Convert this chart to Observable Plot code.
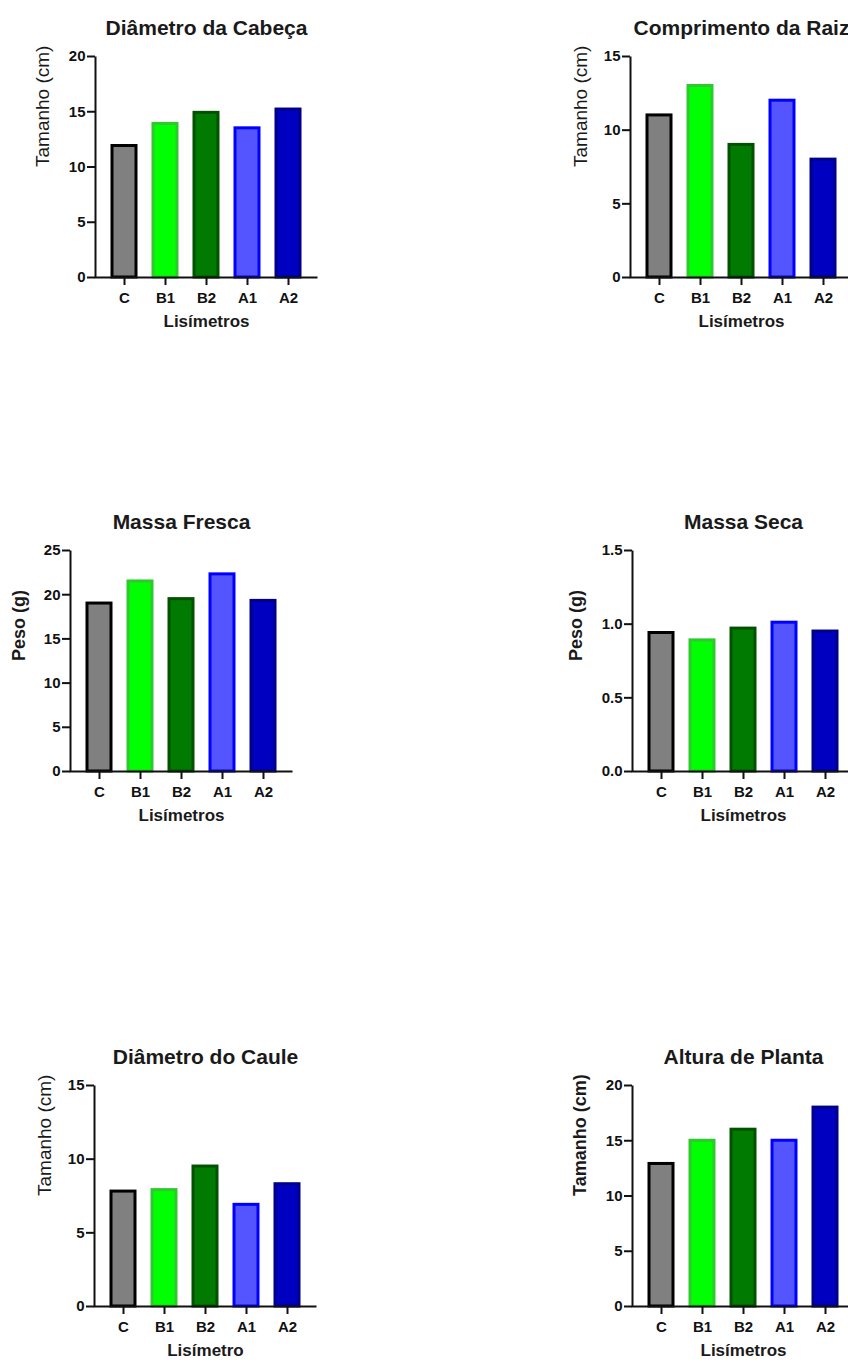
<!DOCTYPE html>
<html>
<head>
<meta charset="utf-8">
<script src="https://cdn.jsdelivr.net/npm/d3@7"></script>
<script src="https://cdn.jsdelivr.net/npm/@observablehq/plot@0.6"></script>
<style>
  html, body { margin: 0; padding: 0; background: #fff; }
  body { width: 848px; height: 1365px; overflow: hidden; position: relative; }
  .panel { position: absolute; }
  .panel svg { overflow: visible; max-width: none !important; display: block; }
  g[aria-label="x-axis tick"], g[aria-label="y-axis tick"] { stroke-width: 2px; }
  g[aria-label="x-axis tick label"] text, g[aria-label="y-axis tick label"] text { font-weight: bold; }
</style>
</head>
<body>
<script>
// ---- data ----
const categories = ["C", "B1", "B2", "A1", "A2"];
const fills   = ["#808080", "#00ff00", "#007a00", "#5555ff", "#0000c0"];
const strokes = ["#000000", "#2fc82f", "#005200", "#0000ff", "#00008a"];

const titles = ["Diâmetro da Cabeça", "Comprimento da Raiz", "Massa Fresca", "Massa Seca", "Diâmetro do Caule", "Altura de Planta"];
const yLabels = ["Tamanho (cm)", "Tamanho (cm)", "Peso (g)", "Peso (g)", "Tamanho (cm)", "Tamanho (cm)"];
const xLabels = ["Lisímetros", "Lisímetros", "Lisímetros", "Lisímetros", "Lisímetro", "Lisímetros"];

const diametroCabeca   = [11.9, 13.9, 14.9, 13.5, 15.2];
const comprimentoRaiz  = [11, 13, 9, 12, 8];
const massaFresca      = [19.0, 21.5, 19.5, 22.3, 19.3];
const massaSeca        = [0.94, 0.89, 0.97, 1.01, 0.95];
const diametroCaule    = [7.8, 7.9, 9.5, 6.9, 8.3];
const alturaPlanta     = [12.9, 15, 16, 15, 18];

const ticks20 = [0, 5, 10, 15, 20];
const ticks15 = [0, 5, 10, 15];
const ticks25 = [0, 5, 10, 15, 20, 25];
const ticks15dec = [0, 0.5, 1.0, 1.5];

// ---- layout ----
const ML = 100, MT = 60, MR = 20, MB = 70, FW = 222, FH = 221;
const panels = [
  {values: diametroCabeca,  ticks: ticks20,    left: -5,  top: -4,   yBold: false, yDx: -53, fmt: d3.format("d")},
  {values: comprimentoRaiz, ticks: ticks15,    left: 530, top: -4,   yBold: false, yDx: -50, fmt: d3.format("d")},
  {values: massaFresca,     ticks: ticks25,    left: -30, top: 490,  yBold: true,  yDx: -51, fmt: d3.format("d")},
  {values: massaSeca,       ticks: ticks15dec, left: 532, top: 490,  yBold: true,  yDx: -56, fmt: d3.format(".1f")},
  {values: diametroCaule,   ticks: ticks15,    left: -6,  top: 1025, yBold: false, yDx: -50, fmt: d3.format("d")},
  {values: alturaPlanta,    ticks: ticks20,    left: 532, top: 1025, yBold: true,  yDx: -52, fmt: d3.format("d")}
];

const font = "Liberation Sans, Arial, Helvetica, sans-serif";

panels.forEach((p, k) => {
  const rows = categories.map((c, i) => ({cat: c, value: p.values[i], fill: fills[i], stroke: strokes[i]}));
  const ymax = p.ticks[p.ticks.length - 1];
  const W = ML + FW + MR, H = MT + FH + MB;
  const chart = Plot.plot({
    width: W,
    height: H,
    marginLeft: ML, marginTop: MT, marginRight: MR, marginBottom: MB,
    style: {fontFamily: font, background: "transparent", color: "#111"},
    x: {domain: categories, paddingInner: 0.42, paddingOuter: 0.385, label: null},
    y: {domain: [0, ymax], label: null},
    color: {type: "identity"},
    marks: [
      Plot.barY(rows, {x: "cat", y: "value", fill: "fill", stroke: "stroke", strokeWidth: 3}),
      Plot.frame({stroke: "#111", strokeWidth: 2, fill: "none", strokeDasharray: `0,${FW + FH},${FW + FH + 4}`}),
      Plot.axisX({tickSize: 8, tickPadding: 7, fontSize: 15, fontWeight: "bold", strokeWidth: 2, label: null}),
      Plot.axisY(p.ticks, {tickSize: 8, tickPadding: 2, fontSize: 15, fontWeight: "bold", strokeWidth: 2, tickFormat: p.fmt, label: null}),
      Plot.text([titles[k]], {frameAnchor: "top", dy: -36, fontSize: 21, fontWeight: "bold", fill: "#1a1a1a"}),
      Plot.text([xLabels[k]], {frameAnchor: "bottom", dy: 49, fontSize: 17, fontWeight: "bold", fill: "#1a1a1a"}),
      Plot.text([yLabels[k]], {frameAnchor: "left", rotate: -90, dx: p.yDx, fontSize: p.yBold ? 18 : 19, fontWeight: p.yBold ? "bold" : "normal", fill: "#1a1a1a"})
    ]
  });
  const div = document.createElement("div");
  div.className = "panel";
  div.style.left = p.left + "px";
  div.style.top = p.top + "px";
  div.style.width = W + "px";
  div.style.height = H + "px";
  div.appendChild(chart);
  document.body.appendChild(div);
});
</script>
</body>
</html>
